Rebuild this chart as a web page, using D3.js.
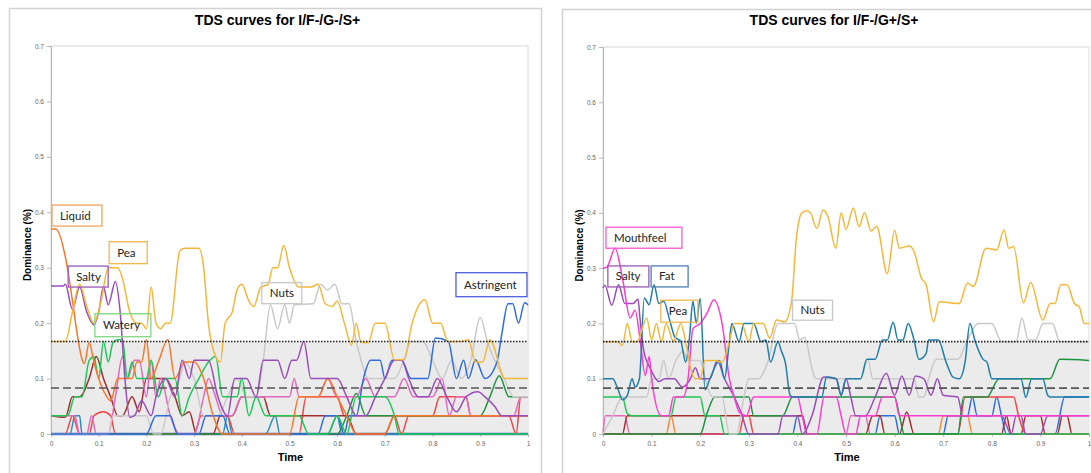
<!DOCTYPE html>
<html>
<head>
<meta charset="utf-8">
<script src="https://cdn.jsdelivr.net/npm/d3@7"></script>
<style>
  body { margin: 0; background: #fff; }
  svg { display: block; }
</style>
</head>
<body>
<div id="chart"></div>
<script>
// ---- data: [time, dominance] knots ----

// left panel, I/F-/G-/S+
var lLiquid = [[0,0.37],[0.01,0.37],[0.03,0.32],[0.045,0.24],[0.055,0.18],[0.065,0.135],[0.07,0.127],[0.08,0.165],[0.09,0.13],[0.1,0.1],[0.115,0.07],[0.125,0.06],[0.14,0.1],[0.17,0.1],[0.18,0.13],[0.19,0.13],[0.2,0.17],[0.21,0.1],[0.225,0.13],[0.245,0.17],[0.26,0.1],[0.28,0.13],[0.3,0.13],[0.32,0.1],[0.34,0.033],[0.36,0],[0.5,0],[0.52,0.067],[0.56,0.067],[0.58,0.1],[0.6,0.067],[0.62,0.033],[0.64,0],[0.7,0],[0.72,0.033],[1,0.033]];
var lPea = [[0,0.167],[0.03,0.167],[0.045,0.22],[0.06,0.27],[0.075,0.23],[0.09,0.2],[0.105,0.24],[0.12,0.3],[0.14,0.3],[0.15,0.28],[0.165,0.22],[0.18,0.2],[0.19,0.2],[0.2,0.19],[0.21,0.265],[0.22,0.2],[0.23,0.19],[0.24,0.2],[0.25,0.2],[0.27,0.33],[0.28,0.335],[0.31,0.335],[0.32,0.3],[0.33,0.2],[0.345,0.14],[0.355,0.13],[0.365,0.2],[0.38,0.22],[0.39,0.26],[0.4,0.27],[0.415,0.24],[0.425,0.23],[0.44,0.265],[0.455,0.27],[0.465,0.3],[0.475,0.3],[0.488,0.34],[0.5,0.3],[0.52,0.265],[0.545,0.265],[0.56,0.27],[0.575,0.235],[0.59,0.23],[0.6,0.24],[0.615,0.2],[0.63,0.16],[0.64,0.2],[0.65,0.165],[0.665,0.165],[0.68,0.2],[0.7,0.2],[0.72,0.134],[0.74,0.134],[0.757,0.2],[0.784,0.242],[0.8,0.2],[0.817,0.2],[0.832,0.167],[0.86,0.167],[0.875,0.17],[0.89,0.13],[0.905,0.13],[0.92,0.17],[0.952,0.1],[1,0.1]];
var lSalty = [[0,0.267],[0.025,0.267],[0.03,0.27],[0.045,0.225],[0.06,0.265],[0.075,0.22],[0.09,0.197],[0.1,0.22],[0.11,0.265],[0.12,0.233],[0.135,0.275],[0.145,0.22],[0.155,0.1],[0.165,0.03],[0.175,0.033],[0.19,0.06],[0.21,0.033],[0.22,0.067],[0.24,0.1],[0.26,0.067],[0.275,0.133],[0.29,0.1],[0.3,0.133],[0.33,0.133],[0.35,0.067],[0.37,0.033],[0.385,0.1],[0.41,0.1],[0.43,0.067],[0.445,0.133],[0.475,0.133],[0.49,0.1],[0.505,0.133],[0.515,0.133],[0.53,0.167],[0.545,0.1],[0.6,0.1],[0.62,0.067],[0.64,0.033],[0.66,0.033],[0.68,0.067],[0.7,0.1],[0.72,0.133],[0.735,0.133],[0.75,0.1],[0.77,0.067],[0.79,0.067],[0.81,0.1],[0.83,0.067],[0.85,0.04],[0.87,0.067],[0.895,0.076],[0.91,0.067],[0.93,0.05],[0.945,0.033],[1,0.033]];
var lWatery = [[0,0.033],[0.035,0.033],[0.05,0.067],[0.065,0.067],[0.08,0.133],[0.09,0.14],[0.1,0.1],[0.11,0.167],[0.12,0.13],[0.13,0.165],[0.14,0.17],[0.15,0.17],[0.16,0.1],[0.17,0.13],[0.18,0.1],[0.2,0.1],[0.21,0.133],[0.225,0.067],[0.24,0.1],[0.26,0.1],[0.275,0.033],[0.29,0.067],[0.31,0.1],[0.33,0.13],[0.345,0.14],[0.36,0.067],[0.39,0.067],[0.4,0.1],[0.415,0.033],[0.43,0.067],[0.45,0.033],[0.52,0.033],[0.54,0],[0.58,0],[0.6,0.033],[0.62,0],[0.64,0.067],[0.7,0.067],[0.72,0.033],[0.73,0],[1,0]];
var lDarkGreen = [[0,0],[0.6,0],[0.62,0.033],[0.64,0.073],[0.66,0.033],[0.9,0.033],[0.92,0.067],[0.94,0.105],[0.96,0.067],[1,0.067]];
var lNuts = [[0,0],[0.12,0],[0.13,0.033],[0.2,0.033],[0.215,0],[0.23,0],[0.25,0.067],[0.27,0.1],[0.28,0.13],[0.3,0.1],[0.32,0.033],[0.35,0.033],[0.37,0.067],[0.39,0.1],[0.41,0.067],[0.43,0.067],[0.445,0.133],[0.46,0.233],[0.475,0.19],[0.49,0.233],[0.5,0.2],[0.51,0.233],[0.55,0.235],[0.565,0.27],[0.58,0.26],[0.595,0.27],[0.61,0.235],[0.625,0.235],[0.64,0.167],[0.65,0.133],[0.665,0.1],[0.72,0.1],[0.74,0.133],[0.755,0.167],[0.78,0.167],[0.8,0.133],[0.82,0.1],[0.84,0.133],[0.86,0.1],[0.88,0.133],[0.9,0.21],[0.915,0.167],[0.93,0.133],[0.95,0.1],[0.97,0.067],[1,0.067]];
var lAstringent = [[0,0],[0.2,0],[0.22,0.033],[0.25,0.033],[0.265,0],[0.31,0],[0.325,0.033],[0.36,0.033],[0.375,0],[0.56,0],[0.575,0.033],[0.6,0.033],[0.615,0],[0.625,0.033],[0.64,0.033],[0.655,0.1],[0.67,0.133],[0.69,0.133],[0.7,0.1],[0.715,0.133],[0.735,0.133],[0.755,0.1],[0.79,0.1],[0.806,0.173],[0.833,0.167],[0.85,0.1],[0.865,0.133],[0.875,0.1],[0.89,0.134],[0.91,0.1],[0.935,0.13],[0.945,0.18],[0.958,0.235],[0.968,0.235],[0.98,0.2],[0.993,0.237],[1,0.233]];
var lPink = [[0,0.033],[0.05,0.033],[0.06,0],[0.075,0],[0.085,0.033],[0.095,0],[0.12,0],[0.135,0.067],[0.15,0.14],[0.16,0.1],[0.175,0.133],[0.185,0.133],[0.2,0.067],[0.21,0.133],[0.22,0.067],[0.23,0.1],[0.25,0.033],[0.27,0],[0.3,0],[0.32,0.067],[0.33,0.1],[0.345,0.067],[0.36,0.033],[0.38,0.033],[0.4,0.067],[0.5,0.067],[0.51,0.1],[0.52,0.067],[0.56,0.067],[0.58,0.1],[0.6,0.067],[0.64,0.067],[0.66,0.1],[0.68,0.067],[0.72,0.067],[0.74,0.1],[0.76,0.067],[0.8,0.067],[0.82,0.1],[0.835,0.033],[0.85,0.067],[0.87,0.067],[0.88,0.033],[0.97,0.033],[0.985,0.067],[1,0.067]];
var lRed = [[0,0],[0.03,0],[0.045,0.033],[0.06,0],[0.08,0],[0.09,0.033],[0.11,0.04],[0.125,0.033],[0.135,0],[0.3,0],[0.315,0.033],[0.37,0.033],[0.385,0],[0.52,0],[0.535,0.067],[0.6,0.067],[0.615,0.033],[0.72,0.033],[0.735,0],[0.75,0.033],[0.8,0.033],[0.815,0.067],[0.87,0.067],[0.88,0.033],[0.96,0.033],[0.975,0],[0.985,0.067],[1,0.067]];
var lBrown = [[0,0.033],[0.03,0.03],[0.045,0.067],[0.06,0.067],[0.08,0.1],[0.095,0.14],[0.11,0.1],[0.125,0.067],[0.14,0.033],[0.15,0.033],[0.17,0.067],[0.185,0.04],[0.2,0.1],[0.24,0.1],[0.26,0.067],[0.275,0.033],[0.29,0.04],[0.305,0],[0.34,0],[0.355,0.033],[0.38,0.033],[0.4,0.067],[0.445,0.067],[0.46,0.033],[0.62,0.033],[0.64,0],[0.7,0],[0.72,0.033],[1,0.033]];
var lTeal = [[0,0],[0.04,0],[0.05,0.033],[0.06,0.033],[0.065,0],[0.36,0],[0.37,0.033],[0.38,0],[0.45,0],[0.47,0.033],[0.48,0],[0.58,0],[0.6,0.033],[0.61,0],[1,0]];
var lBase = [[0,0],[1,0]];

// right panel, I/F-/G+/S+
var rPea = [[0,0.167],[0.03,0.167],[0.04,0.16],[0.05,0.2],[0.06,0.167],[0.07,0.167],[0.09,0.21],[0.1,0.17],[0.11,0.2],[0.12,0.167],[0.13,0.2],[0.145,0.167],[0.16,0.2],[0.17,0.167],[0.18,0.12],[0.19,0.1],[0.2,0.1],[0.21,0.133],[0.23,0.133],[0.245,0.13],[0.26,0.167],[0.27,0.2],[0.285,0.2],[0.3,0.167],[0.31,0.2],[0.33,0.2],[0.343,0.173],[0.357,0.206],[0.374,0.203],[0.388,0.24],[0.398,0.354],[0.409,0.4],[0.42,0.404],[0.427,0.4],[0.44,0.372],[0.453,0.405],[0.463,0.393],[0.479,0.336],[0.49,0.4],[0.5,0.37],[0.515,0.409],[0.527,0.375],[0.538,0.4],[0.552,0.367],[0.563,0.376],[0.585,0.29],[0.6,0.368],[0.61,0.336],[0.63,0.34],[0.64,0.33],[0.655,0.282],[0.665,0.27],[0.68,0.203],[0.692,0.239],[0.733,0.236],[0.75,0.273],[0.762,0.267],[0.788,0.336],[0.81,0.333],[0.825,0.369],[0.835,0.336],[0.845,0.339],[0.865,0.237],[0.88,0.274],[0.905,0.206],[0.92,0.236],[0.93,0.236],[0.942,0.27],[0.955,0.27],[0.97,0.236],[0.98,0.23],[0.99,0.2],[1,0.2]];
var rMouthfeel = [[0,0.3],[0.008,0.302],[0.025,0.336],[0.04,0.282],[0.056,0.21],[0.066,0.224],[0.076,0.173],[0.087,0.106],[0.095,0.14],[0.1,0.1],[0.12,0.033],[0.135,0.033],[0.145,0.067],[0.165,0.067],[0.175,0.1],[0.185,0.19],[0.2,0.2],[0.215,0.22],[0.228,0.243],[0.245,0.2],[0.26,0.1],[0.27,0.067],[0.28,0.04],[0.295,0.033],[0.31,0.067],[0.4,0.067],[0.41,0.033],[0.42,0],[0.44,0],[0.455,0.067],[0.48,0.067],[0.49,0.033],[0.5,0],[0.52,0],[0.53,0.033],[0.56,0.033],[0.575,0.067],[0.6,0.067],[0.61,0.033],[1,0.033]];
var rSalty = [[0,0.264],[0.004,0.269],[0.018,0.233],[0.032,0.27],[0.045,0.236],[0.062,0.236],[0.072,0.244],[0.076,0.21],[0.084,0.149],[0.097,0.119],[0.115,0.095],[0.127,0.1],[0.147,0.1],[0.163,0.085],[0.18,0.1],[0.19,0.12],[0.2,0.1],[0.22,0.1],[0.235,0.133],[0.25,0.1],[0.27,0.067],[0.285,0.037],[0.3,0],[0.36,0],[0.37,0.033],[0.4,0.033],[0.41,0],[0.43,0.033],[0.454,0.103],[0.48,0.1],[0.49,0.07],[0.5,0.1],[0.51,0.067],[0.52,0.033],[0.54,0.033],[0.56,0.067],[0.583,0.11],[0.6,0.07],[0.615,0.105],[0.63,0.07],[0.643,0.105],[0.66,0.1],[0.675,0.07],[0.688,0.1],[0.7,0.07],[0.73,0.067],[0.74,0.033],[0.82,0.033],[0.84,0],[0.85,0.033],[0.86,0.033],[0.87,0],[0.9,0],[0.915,0.033],[1,0.033]];
var rFat = [[0,0.1],[0.02,0.1],[0.03,0.083],[0.04,0.062],[0.05,0.07],[0.06,0.1],[0.066,0.085],[0.075,0.1],[0.085,0.246],[0.095,0.234],[0.105,0.27],[0.115,0.236],[0.125,0.24],[0.136,0.21],[0.148,0.175],[0.16,0.168],[0.17,0.13],[0.178,0.175],[0.185,0.24],[0.192,0.2],[0.2,0.245],[0.21,0.08],[0.22,0.1],[0.24,0.133],[0.25,0.1],[0.26,0.167],[0.265,0.2],[0.28,0.167],[0.29,0.2],[0.31,0.2],[0.325,0.167],[0.335,0.17],[0.345,0.13],[0.36,0.167],[0.367,0.15],[0.375,0.13],[0.385,0.07],[0.39,0.067],[0.45,0.067],[0.46,0.103],[0.48,0.1],[0.49,0.07],[0.5,0.1],[0.53,0.1],[0.543,0.135],[0.56,0.135],[0.575,0.17],[0.585,0.17],[0.597,0.202],[0.607,0.17],[0.617,0.17],[0.628,0.2],[0.64,0.17],[0.65,0.135],[0.665,0.146],[0.67,0.17],[0.69,0.17],[0.706,0.13],[0.72,0.103],[0.733,0.1],[0.745,0.13],[0.755,0.2],[0.765,0.17],[0.782,0.135],[0.79,0.13],[0.8,0.1],[0.86,0.1],[0.87,0.066],[0.882,0.1],[0.905,0.1],[0.915,0.07],[0.92,0.067],[1,0.067]];
var rNuts = [[0,0],[0.02,0.033],[0.04,0.067],[0.09,0.067],[0.1,0.1],[0.115,0.1],[0.125,0.133],[0.135,0.1],[0.15,0.133],[0.165,0.15],[0.175,0.133],[0.2,0.133],[0.21,0.1],[0.225,0.067],[0.245,0.067],[0.26,0],[0.275,0],[0.29,0.067],[0.3,0.1],[0.32,0.1],[0.34,0.133],[0.36,0.2],[0.394,0.2],[0.405,0.17],[0.415,0.175],[0.43,0.118],[0.438,0.1],[0.53,0.1],[0.545,0.135],[0.555,0.1],[0.64,0.1],[0.65,0.067],[0.66,0.067],[0.67,0.1],[0.686,0.135],[0.73,0.135],[0.75,0.17],[0.772,0.2],[0.8,0.2],[0.82,0.167],[0.85,0.167],[0.862,0.21],[0.875,0.17],[0.89,0.17],[0.905,0.2],[0.925,0.2],[0.94,0.167],[1,0.167]];
var rGreen = [[0,0.067],[0.04,0.067],[0.05,0.037],[0.06,0.033],[0.14,0.033],[0.15,0.067],[0.2,0.067],[0.21,0.033],[0.24,0.033],[0.25,0],[1,0]];
var rDarkGreen = [[0,0],[0.2,0],[0.215,0.04],[0.23,0.067],[0.3,0.067],[0.31,0.033],[0.37,0.033],[0.39,0.067],[0.6,0.067],[0.61,0.033],[0.62,0],[0.73,0],[0.742,0.067],[0.79,0.067],[0.815,0.1],[0.92,0.1],[0.94,0.135],[1,0.133]];
var rRed = [[0,0],[0.28,0],[0.29,0.033],[0.3,0.033],[0.31,0],[0.73,0],[0.745,0.067],[0.845,0.067],[0.855,0.033],[0.87,0],[1,0]];
var rBrown = [[0,0],[0.04,0],[0.05,0.033],[0.41,0.033],[0.42,0],[0.54,0],[0.555,0.033],[0.57,0.033],[0.58,0],[0.61,0],[0.625,0.04],[0.64,0],[0.82,0],[0.83,0.033],[0.84,0],[0.86,0],[0.87,0.033],[0.9,0.033],[0.91,0],[0.935,0],[0.945,0.033],[0.955,0.033],[0.965,0],[1,0]];
var rBlue = [[0,0],[0.39,0],[0.4,0.033],[0.41,0.033],[0.42,0],[0.56,0],[0.57,0.033],[0.6,0.033],[0.61,0],[0.7,0],[0.71,0.033],[0.75,0.033],[0.76,0.067],[0.77,0.033],[0.8,0.033],[0.81,0.067],[0.82,0.033],[0.83,0],[0.93,0],[0.95,0.067],[1,0.067]];
var rOrange = [[0,0],[0.13,0],[0.14,0.033],[0.15,0],[0.69,0],[0.7,0.033],[0.75,0.033],[0.76,0],[1,0]];
var rPink = [[0,0],[0.005,0.033],[0.045,0.033],[0.055,0],[0.5,0],[0.51,0.033],[0.54,0.033],[0.55,0],[1,0]];

// significance and chance levels
var signifLevel = 0.167;
var chanceLevel = 0.083;
var yTicks = [0, 0.1, 0.2, 0.3, 0.4, 0.5, 0.6, 0.7];
var xTicks = [0, 0.1, 0.2, 0.3, 0.4, 0.5, 0.6, 0.7, 0.8, 0.9, 1];

var colors = {
  liquid: "#f7782a", pea: "#f4b73c", salty: "#9a4dba", watery: "#1fc757",
  darkgreen: "#1f9340", nuts: "#c9c9c9", astringent: "#2f6ddc", pink: "#e468bc",
  red: "#ef4646", brown: "#a32e2e", teal: "#2a8fb8", base: "#5b5fb3",
  mouthfeel: "#ff3ccf", fat: "#1f7eaa", orange: "#f98a34"
};

var panels = [
  { title: "TDS curves for I/F-/G-/S+", frame: [9, 8, 532], plot: [51, 528, 46, 434],
    series: [
      [lBase, "base"], [lTeal, "teal"], [lRed, "red"], [lBrown, "brown"], [lDarkGreen, "darkgreen"],
      [lPink, "pink"], [lNuts, "nuts"], [lAstringent, "astringent"], [lWatery, "watery"],
      [lLiquid, "liquid"], [lSalty, "salty"], [lPea, "pea"]
    ],
    labels: [
      ["Liquid", 0.002, 0.413, 50, 21, "#f5a25e"], ["Pea", 0.122, 0.347, 38, 22, "#f2b84a"],
      ["Salty", 0.036, 0.303, 40, 21, "#9b59b6"], ["Watery", 0.092, 0.217, 56, 23, "#80d680"],
      ["Nuts", 0.442, 0.273, 40, 21, "#c8c8c8"], ["Astringent", 0.849, 0.291, 71, 24, "#4b5fdc"]
    ] },
  { title: "TDS curves for I/F-/G+/S+", frame: [562, 9, 540], plot: [603, 1089, 47, 434],
    series: [
      [rOrange, "orange"], [rPink, "pink"], [rBlue, "astringent"], [rBrown, "brown"], [rRed, "red"],
      [rGreen, "watery"], [rDarkGreen, "darkgreen"], [rNuts, "nuts"], [rSalty, "salty"],
      [rMouthfeel, "mouthfeel"], [rFat, "fat"], [rPea, "pea"]
    ],
    labels: [
      ["Mouthfeel", 0.006, 0.374, 76, 21, "#ff55d5"], ["Salty", 0.01, 0.304, 41, 21, "#9b59b6"],
      ["Fat", 0.099, 0.304, 37, 21, "#4d7fb5"], ["Pea", 0.119, 0.242, 37, 22, "#f2b84a"],
      ["Nuts", 0.39, 0.242, 40, 20, "#c8c8c8"]
    ] }
];

var svg = d3.select("#chart").append("svg")
    .attr("width", 1091)
    .attr("height", 473);

panels.forEach(function(p) {
  var g = svg.append("g");

  // outer frame of the figure
  g.append("rect")
      .attr("x", p.frame[0] + 0.5).attr("y", p.frame[1] + 0.5)
      .attr("width", p.frame[2]).attr("height", 500)
      .attr("fill", "none").attr("stroke", "#d2d2d2").attr("stroke-width", 1.5);

  var x = d3.scaleLinear().domain([0, 1]).range([p.plot[0], p.plot[1]]);
  var y = d3.scaleLinear().domain([0, 0.7]).range([p.plot[3], p.plot[2]]);
  var mid = (p.plot[0] + p.plot[1]) / 2;

  // title
  g.append("text")
      .attr("x", mid - 12).attr("y", 25)
      .attr("text-anchor", "middle")
      .style("font", "bold 14px 'Liberation Sans', Arial, sans-serif")
      .text(p.title);

  // plot border
  g.append("rect")
      .attr("x", x(0)).attr("y", y(0.7))
      .attr("width", x(1) - x(0)).attr("height", y(0) - y(0.7))
      .attr("fill", "none").attr("stroke", "#dadada").attr("stroke-width", 1);

  // grey band under the significance level
  g.append("rect")
      .attr("x", x(0)).attr("y", y(signifLevel))
      .attr("width", x(1) - x(0)).attr("height", y(0) - y(signifLevel))
      .attr("fill", "#ebebeb");

  // axes
  var yAxis = g.append("g")
      .attr("transform", "translate(" + x(0) + ",0)")
      .call(d3.axisLeft(y).tickValues(yTicks).tickSize(4)
        .tickFormat(function(d) { return d === 0 ? "0" : d3.format(".1f")(d); }));
  var xAxis = g.append("g")
      .attr("transform", "translate(0," + y(0) + ")")
      .call(d3.axisBottom(x).tickValues(xTicks).tickSize(3)
        .tickFormat(function(d) { return d === 0 || d === 1 ? String(d) : d3.format(".1f")(d); }));
  [yAxis, xAxis].forEach(function(a) {
    a.select(".domain").attr("stroke", "#b8b8b8");
    a.selectAll(".tick line").attr("stroke", "#b8b8b8");
    a.selectAll(".tick text").attr("fill", "#666")
      .style("font", "6.5px 'Liberation Sans', Arial, sans-serif");
  });
  xAxis.selectAll(".tick text").attr("dy", "0.9em");

  // curves
  var line = d3.line()
      .x(function(d) { return x(d[0]); })
      .y(function(d) { return y(d[1]); })
      .curve(d3.curveMonotoneX);

  p.series.forEach(function(s) {
    g.append("path")
        .datum(s[0])
        .attr("fill", "none")
        .attr("stroke", colors[s[1]])
        .attr("stroke-width", s[1] === "base" ? 2.5 : 1.5)
        .attr("stroke-linejoin", "round")
        .attr("d", line);
  });

  // significance (dotted) and chance (dashed) levels
  g.append("line")
      .attr("x1", x(0)).attr("x2", x(1))
      .attr("y1", y(signifLevel)).attr("y2", y(signifLevel))
      .attr("stroke", "#222").attr("stroke-width", 1.6).attr("stroke-dasharray", "1.5,1.5");
  g.append("line")
      .attr("x1", x(0)).attr("x2", x(1))
      .attr("y1", y(chanceLevel)).attr("y2", y(chanceLevel))
      .attr("stroke", "#555").attr("stroke-width", 1.6).attr("stroke-dasharray", "8,4");

  // attribute labels
  p.labels.forEach(function(l) {
    var bx = x(l[1]), by = y(l[2]);
    g.append("rect")
        .attr("x", bx).attr("y", by)
        .attr("width", l[3]).attr("height", l[4])
        .attr("fill", "none").attr("stroke", l[5]).attr("stroke-width", 1.3);
    g.append("text")
        .attr("x", bx + 8).attr("y", by + l[4] / 2 + 4)
        .style("font", "11.5px Lato, 'Open Sans', sans-serif")
        .attr("fill", "#222")
        .text(l[0]);
  });

  // axis titles
  g.append("text")
      .attr("transform", "translate(" + (p.plot[0] - 20) + "," + ((y(0) + y(0.7)) / 2 + 5) + ") rotate(-90)")
      .attr("text-anchor", "middle")
      .style("font", "bold 10px 'Liberation Sans', Arial, sans-serif")
      .text("Dominance (%)");
  g.append("text")
      .attr("x", mid + 1).attr("y", 461)
      .attr("text-anchor", "middle")
      .style("font", "bold 11px 'Liberation Sans', Arial, sans-serif")
      .text("Time");
});
</script>
</body>
</html>
